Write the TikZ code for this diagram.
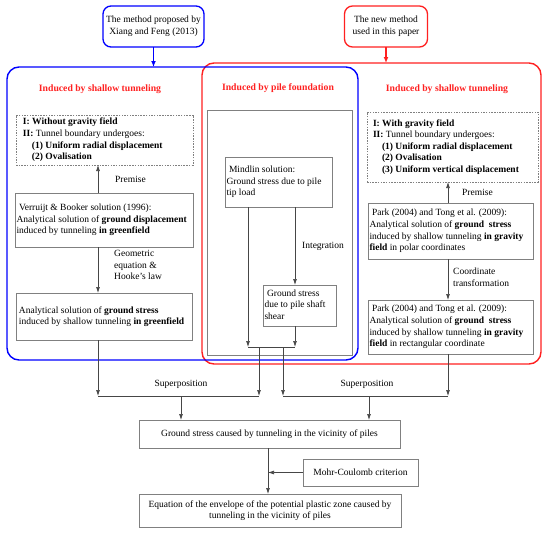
\documentclass[tikz,border=0pt]{standalone}
\usepackage{fontspec}
\setmainfont{Liberation Serif}
\usetikzlibrary{arrows.meta,calc}
\definecolor{myred}{RGB}{255,32,32}
\definecolor{myblue}{RGB}{0,0,255}
\definecolor{boxgray}{RGB}{128,128,128}
\definecolor{linegray}{RGB}{70,70,70}
\newcommand{\leftlines}[2]{\makebox[#1][l]{\begin{tabular}{@{}l@{}}#2\end{tabular}}}
\begin{document}
\begin{tikzpicture}[x=1pt,y=-1pt,
  font=\fontsize{9.5}{11.6}\selectfont,
  box/.style={draw=boxgray, line width=0.8pt, outer sep=0pt, inner sep=0pt},
  dbox/.style={box, dash pattern=on 1.5pt off 1.2pt},
  rbox/.style={draw=#1, line width=1.3pt, rounded corners=8pt, align=center, outer sep=0pt, inner sep=0pt},
  bigbox/.style={draw=#1, line width=1.4pt, rounded corners=12pt, outer sep=0pt, inner sep=0pt},
  ttl/.style={text=myred, font=\fontsize{9.7}{11.6}\selectfont\bfseries, inner sep=0pt},
  lbl/.style={anchor=west, align=left, inner sep=0pt},
  conn/.style={draw=linegray, line width=0.7pt, -{Latex[length=6pt,width=4pt]}},
  plain/.style={draw=linegray, line width=0.7pt},
  carr/.style={draw=#1, line width=1.3pt, -{Latex[length=6pt,width=5pt]}}
]
\useasboundingbox (0,0) rectangle (550,533);

% big frames
\node[bigbox=myred, minimum width=339pt, minimum height=301pt] (bigR) at (371.5,213.5) {};
\node[bigbox=myblue, minimum width=351pt, minimum height=293pt] (bigB) at (182.5,213.5) {};

% top boxes
\node[rbox=myblue, minimum width=101pt, minimum height=41pt] (topL) at (153.5,26.5) {The method proposed by\\Xiang and Feng (2013)};
\node[rbox=myred, minimum width=83pt, minimum height=41pt] (topR) at (386,26.5) {The new method\\used in this paper};
\draw[carr=myblue] (topL.south) -- (topL.south |- bigB.north);
\draw[carr=myred] (topR.south) -- (topR.south |- bigR.north);

% titles
\node[ttl] (tL) at (100,89) {Induced by shallow tunneling};
\node[ttl] (tP) at (278,88.5) {Induced by pile foundation};
\node[ttl] (tR) at (447,89) {Induced by shallow tunneling};

% left column
\node[dbox, minimum width=177pt, minimum height=50pt] (dashL) at (104.5,140)
 {\leftlines{163pt}{\textbf{I: Without gravity field}\\
  \textbf{II:} Tunnel boundary undergoes:\\
  \hspace*{9pt}\textbf{(1) Uniform radial displacement}\\
  \hspace*{9pt}\textbf{(2) Ovalisation}}};
\node[box, minimum width=178pt, minimum height=54pt] (verL) at (104,220)
 {\leftlines{175pt}{\hspace*{2.5pt}Verruijt \& Booker solution (1996):\\
  Analytical solution of \textbf{ground displacement}\\
  induced by tunneling \textbf{in greenfield}}};
\node[box, minimum width=176pt, minimum height=47pt] (anaL) at (104,316.5)
 {\leftlines{170pt}{Analytical solution of \textbf{ground stress}\\
  induced by shallow tunneling \textbf{in greenfield}}};

\coordinate (xl) at (98,0);
\draw[conn] (verL.north -| xl) -- (dashL.south -| xl);
\node[lbl] (premL) at (115,179) {Premise};
\draw[conn] (verL.south -| xl) -- (anaL.north -| xl);
\node[lbl] (geo) at (114,265) {Geometric\\equation \&\\Hooke's law};

% pile column
\node[box, minimum width=145pt, minimum height=245pt] (pileB) at (279.5,232.5) {};
\node[box, minimum width=107pt, minimum height=50pt] (mind) at (278.5,182)
 {\leftlines{104pt}{\hspace*{2.5pt}Mindlin solution:\\
  Ground stress due to pile\\
  tip load}};
\node[box, minimum width=73pt, minimum height=41pt] (shaft) at (299.5,305.5)
 {\leftlines{70pt}{\hspace*{2.5pt}Ground stress\\
  due to pile shaft\\
  shear}};
\coordinate (pL) at (248,347);
\coordinate (pR) at (295,347);
\coordinate (pa) at (259,347);
\coordinate (pb) at (283,347);
\draw[conn] (mind.south -| pL) -- (pL);
\draw[conn] (mind.south -| pR) -- (shaft.north -| pR);
\node[lbl] (integ) at (302,246) {Integration};
\draw[conn] (shaft.south -| pR) -- (pR);
\draw[plain] (pL) -- (pR);

% right column
\node[dbox, minimum width=171pt, minimum height=70pt] (dashR) at (452.5,147)
 {\leftlines{159pt}{\textbf{I: With gravity field}\\
  \textbf{II:} Tunnel boundary undergoes:\\
  \hspace*{9pt}\textbf{(1) Uniform radial displacement}\\
  \hspace*{9pt}\textbf{(2) Ovalisation}\\
  \hspace*{9pt}\textbf{(3) Uniform vertical displacement}}};
\node[box, minimum width=165pt, minimum height=56pt] (park1) at (450.5,231)
 {\leftlines{162pt}{\hspace*{2.5pt}Park (2004) and Tong et al. (2009):\\
  Analytical solution of \textbf{ground\ \ stress}\\
  induced by shallow tunneling \textbf{in gravity}\\
  \textbf{field} in polar coordinates}};
\node[box, minimum width=165pt, minimum height=54pt] (park2) at (450.5,327)
 {\leftlines{162pt}{\hspace*{2.5pt}Park (2004) and Tong et al. (2009):\\
  Analytical solution of \textbf{ground\ \ stress}\\
  induced by shallow tunneling \textbf{in gravity}\\
  \textbf{field} in rectangular coordinate}};
\coordinate (xr) at (448,0);
\draw[conn] (park1.north -| xr) -- (dashR.south -| xr);
\node[lbl] (premR) at (462,192) {Premise};
\draw[conn] (park1.south -| xr) -- (park2.north -| xr);
\node[lbl] (coord) at (453,277) {Coordinate\\transformation};

% superposition
\coordinate (bL1) at (98,396);
\coordinate (bL2) at (259,396);
\coordinate (bR1) at (283,396);
\coordinate (bR2) at (448,396);
\coordinate (mL) at (181,396);
\coordinate (mR) at (369,396);
\draw[conn] (anaL.south -| bL1) -- (bL1);
\draw[conn] (pa) -- (bL2);
\draw[plain] (bL1) -- (bL2);
\draw[conn] (pb) -- (bR1);
\draw[conn] (park2.south -| bR2) -- (bR2);
\draw[plain] (bR1) -- (bR2);
\node[inner sep=0pt] (supL) at (181,384) {Superposition};
\node[inner sep=0pt] (supR) at (367,384) {Superposition};

% bottom
\node[box, minimum width=261pt, minimum height=28pt, align=center] (gs) at (269.5,434)
 {Ground stress caused by tunneling in the vicinity of piles};
\draw[conn] (mL) -- (gs.north -| mL);
\draw[conn] (mR) -- (gs.north -| mR);
\node[box, minimum width=115pt, minimum height=27pt, align=center] (mohr) at (360.5,472.5)
 {Mohr-Coulomb criterion};
\node[box, minimum width=262pt, minimum height=33pt, align=center] (eq) at (270,510.5)
 {Equation of the envelope of the potential plastic zone caused by\\tunneling in the vicinity of piles};
\coordinate (xe) at (268,0);
\draw[conn] (gs.south -| xe) -- (eq.north -| xe);
\draw[conn] (mohr.west) -- (mohr.west -| xe);
\end{tikzpicture}
\end{document}
